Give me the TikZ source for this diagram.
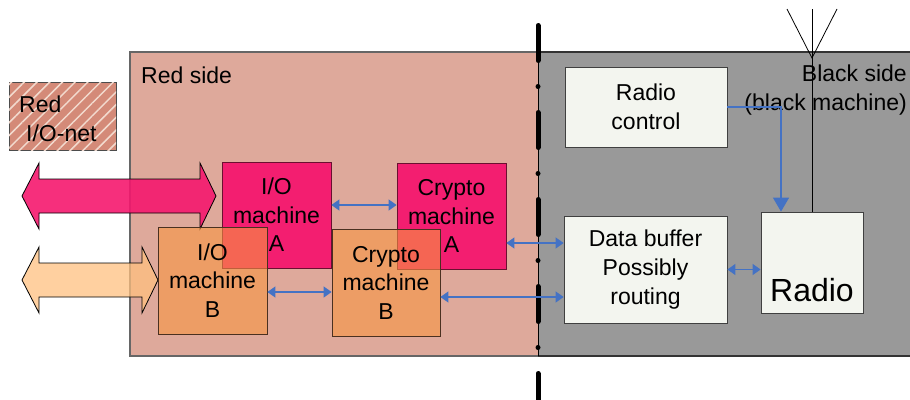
\documentclass[tikz,border=0pt]{standalone}
\usepackage{fontspec}
\setmainfont{Liberation Sans}
\usetikzlibrary{arrows.meta,patterns.meta}

\definecolor{redside}{HTML}{DEA99B}
\definecolor{blackside}{HTML}{999999}
\definecolor{pinkm}{HTML}{F31E70}
\definecolor{orangem}{HTML}{F79541}
\definecolor{pinkarrow}{HTML}{F5186E}
\definecolor{peach}{HTML}{FFC080}
\definecolor{paper}{HTML}{F3F5EF}
\definecolor{link}{HTML}{4472C4}
\definecolor{netfill}{HTML}{D48A78}
\definecolor{netline}{HTML}{F2DACE}
\definecolor{maroonedge}{HTML}{6A1030}
\definecolor{brownedge}{HTML}{4A3020}

\begin{document}
\begin{tikzpicture}[x=1pt,y=-1pt,
  machbox/.style={rectangle, inner sep=0pt, align=center,
    font=\fontsize{23}{28.5}\selectfont, text=black},
  pinkbox/.style={machbox, fill=pinkm, draw=maroonedge, line width=0.8pt},
  orangebox/.style={machbox, fill=orangem, fill opacity=0.6, text opacity=1,
    draw=brownedge, draw opacity=1, line width=0.8pt},
  whitebox/.style={machbox, fill=paper, draw=black!75, line width=0.8pt},
  bigarrow/.style={draw=black, line width=0.8pt, line join=miter},
  link/.style={draw=link, line width=1.3pt,
    {Triangle[length=8pt,width=11pt]}-{Triangle[length=8pt,width=11pt]}},
  plain/.style={inner sep=0pt, font=\fontsize{23}{29}\selectfont}
]
\useasboundingbox (0,0) rectangle (910,399);

% the two security domains
\fill[redside] (130,52) rectangle (538,356);
\fill[blackside] (538,52) rectangle (911,356);
\draw[black!60, line width=1.5pt] (538,52) -- (130,52) -- (130,356) -- (538,356);
\draw[black!80, line width=1.5pt] (538,52) -- (911,52);
\draw[black!80, line width=1.5pt] (538,356) -- (911,356);
\draw[black, line width=0.8pt] (538,52) -- (538,356);

\node[plain, anchor=west] (redlabel) at (141,75) {Red side};
\node[plain, align=right, anchor=east] (blacklabel) at (907,90)
  {Black side\\(black machine)};

% external red network
\node[rectangle, minimum width=107pt, minimum height=68pt, fill=netfill,
  draw=black!70, line width=0.8pt,
  postaction={pattern={Lines[angle=45,distance=9pt,line width=1.5pt]},
    pattern color=netline}] (net) at (62.5,116) {};
\node[plain, align=left, anchor=west] (netlabel) at (19,119)
  {Red\\\hspace*{7pt}I/O-net};

% wide interfaces into the red side
\path[bigarrow, fill=pinkarrow, fill opacity=0.9]
  (22,196) -- (39,163) -- (39,179) -- (200,179) -- (200,163) -- (216,196)
  -- (200,229) -- (200,213) -- (39,213) -- (39,229) -- cycle;
\path[bigarrow, fill=peach, fill opacity=0.75]
  (22,280) -- (39,247) -- (39,263) -- (142,263) -- (142,247) -- (158,280)
  -- (142,313) -- (142,297) -- (39,297) -- (39,313) -- cycle;

% machines on the red side
\node[pinkbox, minimum width=109pt, minimum height=106pt] (ioA) at (276.5,215)
  {I/O\\machine\\A};
\node[pinkbox, minimum width=109pt, minimum height=106pt] (cryA) at (451.5,216)
  {Crypto\\machine\\A};
\node[orangebox, minimum width=109pt, minimum height=107pt] (ioB) at (212.5,280.5)
  {I/O\\machine\\B};
\node[orangebox, minimum width=108pt, minimum height=107pt] (cryB) at (386,282.5)
  {Crypto\\machine\\B};

% machines on the black side
\node[whitebox, minimum width=162pt, minimum height=80pt] (rc) at (646,107)
  {Radio\\control};
\node[whitebox, minimum width=163pt, minimum height=107pt,
  font=\fontsize{23}{29}\selectfont] (db) at (645.5,269.5)
  {Data buffer\\Possibly\\routing};
\node[whitebox, minimum width=102pt, minimum height=101pt] (radio) at (812,262.5) {};
\node[font=\fontsize{32}{38}\selectfont, anchor=base] (radiotxt) at (812,301.5) {Radio};

% antenna
\coordinate (antfoot) at (812,58);
\draw[black, line width=0.8pt] (radio.north) -- (812,9);
\draw[black, line width=0.8pt] (787,9) -- (antfoot) -- (837,9);

% red/black boundary
\draw[black, line width=5pt, line cap=round,
  dash pattern=on 35pt off 26pt on 0pt off 26pt] (538,25.5) -- (538,402);

% data paths
\draw[link] (ioA.east |- 0,205) -- (cryA.west |- 0,205);
\draw[link] (ioB.east |- 0,292) -- (cryB.west |- 0,292);
\draw[link] (cryA.east |- 0,243) -- (db.west |- 0,243);
\draw[link] (cryB.east |- 0,297) -- (db.west |- 0,297);
\draw[link] (db.east) -- (radio.west |- db.east);
\draw[draw=link, line width=1.3pt, -{Triangle[length=14pt,width=16pt]}]
  (rc.east) -| ([xshift=-31pt]radio.north);
\end{tikzpicture}
\end{document}
